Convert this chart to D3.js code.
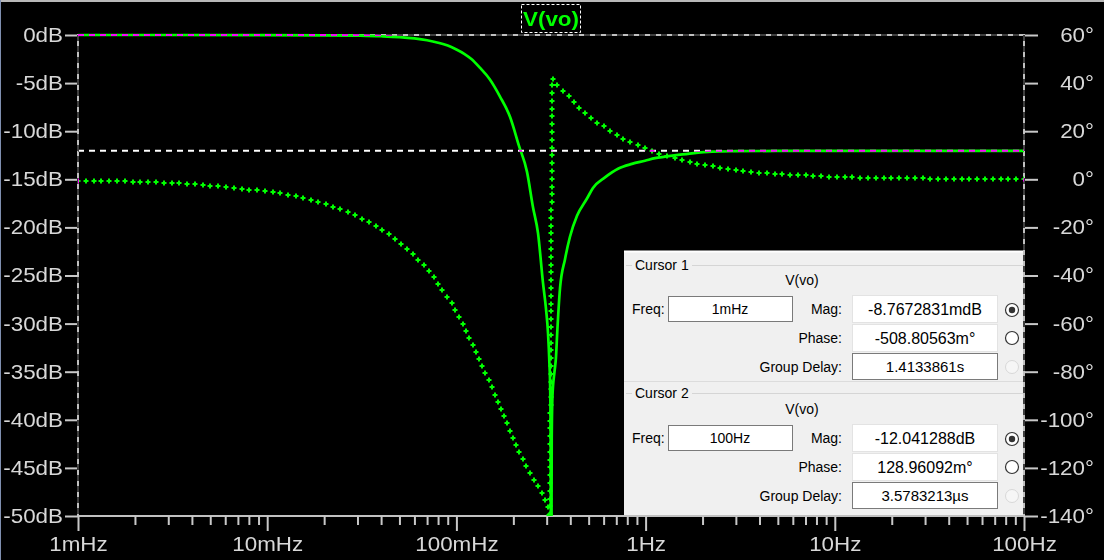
<!DOCTYPE html>
<html><head><meta charset="utf-8">
<script src="https://cdn.jsdelivr.net/npm/d3@7"></script>
<style>
body{margin:0;background:#000;overflow:hidden}
svg{display:block}
.cur{mix-blend-mode:difference}
</style></head>
<body><svg id="c" width="1104" height="560"></svg>
<script>
// ---------- data ----------
const magFreq = [0.001,0.003,0.01,0.02,0.03,0.04,0.05,0.06,0.07,0.08,0.09,0.1,0.11,0.12,0.133,0.15,0.17,0.192,0.214,0.236,0.254,0.27,0.287,0.298,0.305,0.31,0.313,0.315,0.3168,0.319,0.322,0.33,0.336,0.341,0.353,0.375,0.398,0.434,0.49,0.527,0.61,0.715,0.847,0.993,1.122,1.265,1.484,1.758,2.244,3.0,5.0,10,30,100];
const magDb   = [0,0,-0.01,-0.03,-0.07,-0.13,-0.22,-0.36,-0.55,-0.8,-1.1,-1.5,-1.95,-2.5,-3.4,-4.6,-6.4,-8.5,-11.5,-14.2,-17.9,-20.6,-25.8,-28.6,-31.0,-34.0,-36.6,-42,-65,-42,-37.5,-35,-33.5,-31.0,-26.3,-23.3,-21.0,-18.8,-17.0,-15.9,-14.8,-13.9,-13.4,-13.07,-12.8,-12.65,-12.47,-12.3,-12.13,-12.08,-12.05,-12.04,-12.04,-12.04];

const phFreq = [0.001,0.002,0.004,0.00812,0.0103,0.0132,0.0162,0.0207,0.0264,0.0322,0.041,0.0485,0.0549,0.0636,0.0744,0.0841,0.0949,0.1032,0.1125,0.1238,0.1345,0.15,0.17,0.187,0.214,0.236,0.27,0.294,0.305,0.3105,0.3225,0.344,0.366,0.389,0.419,0.445,0.484,0.515,0.56,0.61,0.664,0.732,0.797,0.868,0.946,1.031,1.122,1.222,1.331,1.484,1.595,1.738,1.893,2.061,2.244,2.63,2.934,3.477,4.123,4.83,5.867,6.956,7.573,12.48,20,38.2,100];
const phDeg  = [-0.5,-1.0,-2.0,-4.3,-5.2,-6.6,-8.2,-10.6,-13.5,-16.6,-21.5,-25.2,-29.0,-33.8,-39.8,-46.0,-51.8,-57.0,-63.0,-70.0,-76.5,-84.3,-95.0,-102.5,-113.0,-119.6,-128.0,-133.0,-136.0,-141,42.0,38.9,36.8,34.8,31.9,29.6,27.4,25.4,23.3,21.7,19.7,17.6,16.0,14.7,13.6,12.5,11.2,10.2,9.4,8.5,7.8,7.1,6.5,6.0,5.4,4.6,4.0,3.3,2.7,2.3,1.9,1.6,1.4,0.8,0.5,0.25,0.13];

const dbTicks = [0,-5,-10,-15,-20,-25,-30,-35,-40,-45,-50];
const degTicks = [60,40,20,0,-20,-40,-60,-80,-100,-120,-140];
const freqTicks = [0.001,0.01,0.1,1,10,100];
const freqTickLabels = ["1mHz","10mHz","100mHz","1Hz","10Hz","100Hz"];
const minorMult = [2,3,4,5,6,7,8,9];

const traceName = "V(vo)";
const cursorFreq = [0.001, 100];
const cursorMag = [-0.0087672831, -12.041288];
const cursorNames = ["Cursor 1","Cursor 2"];
const cursorFreqText = ["1mHz","100Hz"];
const cursorMagText = ["-8.7672831mdB","-12.041288dB"];
const cursorPhaseText = ["-508.80563m°","128.96092m°"];
const cursorGDText = ["1.4133861s","3.5783213µs"];

// ---------- layout ----------
const L = 78, R = 1024, T = 35, B = 516;
const sx = 1.12;
const svg = d3.select("#c");
svg.append("rect").attr("width",1104).attr("height",560).attr("fill","#000");
svg.append("line").attr("x1",0).attr("x2",1104).attr("y1",1).attr("y2",1).attr("stroke","#b8b8b8").attr("stroke-width",2);
svg.append("line").attr("x1",0.5).attr("x2",0.5).attr("y1",0).attr("y2",560).attr("stroke","#7f8fb0").attr("stroke-width",1);

const x = d3.scaleLog().domain([0.001,100]).range([L,R]);
const yDb = d3.scaleLinear().domain([-50,0]).range([B,T]);
const yDeg = d3.scaleLinear().domain([-140,60]).range([B,T]);

const axisFont = "'Liberation Sans', Arial, sans-serif";
const tickCol = "#c8c8c8";

// frame
svg.append("rect").attr("x",L).attr("y",T).attr("width",R-L).attr("height",B-T)
  .attr("fill","none").attr("stroke","#c0c0c0").attr("stroke-width",2);

function styleAxis(g){
  g.select(".domain").remove();
  g.selectAll("line").attr("stroke",tickCol).attr("stroke-width",2);
  g.selectAll("text").attr("fill","#d8d8d8").style("font-family",axisFont).style("font-size","20px");
}

// left axis
const gl = svg.append("g").attr("transform",`translate(${L},0)`)
  .call(d3.axisLeft(yDb).tickValues(dbTicks).tickFormat(d=>d+"dB").tickSize(13));
styleAxis(gl);
gl.selectAll("text").attr("x",-15/sx).attr("transform",`scale(${sx},1)`);

// right axis
const gr = svg.append("g").attr("transform",`translate(${R},0)`)
  .call(d3.axisRight(yDeg).tickValues(degTicks).tickFormat(d=>d+"°").tickSize(14));
styleAxis(gr);
gr.selectAll("text").attr("text-anchor","end").attr("x",70/sx).attr("transform",`scale(${sx},1)`);

// bottom axis: minor + major
const minors = [];
freqTicks.slice(0,-1).forEach(f=>minorMult.forEach(m=>minors.push(f*m)));
const gbm = svg.append("g").attr("transform",`translate(0,${B})`)
  .call(d3.axisBottom(x).tickValues(minors).tickFormat("").tickSize(9));
styleAxis(gbm);
const gb = svg.append("g").attr("transform",`translate(0,${B})`)
  .call(d3.axisBottom(x).tickValues(freqTicks).tickFormat((d,i)=>freqTickLabels[i]).tickSize(15).tickPadding(6));
styleAxis(gb);
gb.selectAll(".tick text").attr("transform",`scale(${sx},1)`);

// clip
svg.append("clipPath").attr("id","clip").append("rect").attr("x",L).attr("y",T-3).attr("width",R-L).attr("height",B-T+3);
const plot = svg.append("g").attr("clip-path","url(#clip)");

// magnitude
const magData = magFreq.map((f,i)=>[f,magDb[i]]);
plot.append("path").datum(magData)
  .attr("d", d3.line().x(d=>x(d[0])).y(d=>yDb(d[1])).curve(d3.curveMonotoneX))
  .attr("fill","none").attr("stroke","#00ff00").attr("stroke-width",2.7);

// phase (dotted with + marks)
const phData = phFreq.map((f,i)=>[f,phDeg[i]]);
const phPath = plot.append("path").datum(phData)
  .attr("d", d3.line().x(d=>x(d[0])).y(d=>yDeg(d[1])).curve(d3.curveMonotoneX))
  .attr("fill","none").attr("stroke","none");
const node = phPath.node();
const len = node.getTotalLength();
const pts = [];
for(let s=0; s<=len; s+=7.8){ const p=node.getPointAtLength(s); pts.push([Math.round(p.x),Math.round(p.y)]); }
plot.append("path")
  .attr("d", pts.map(p=>`M${p[0]-2.5},${p[1]}h5M${p[0]},${p[1]-2.5}v5`).join(""))
  .attr("stroke","#00ff00").attr("stroke-width",2).attr("fill","none");

// cursors (XOR-like)
const cur = svg.append("g").attr("class","cur");
cursorFreq.forEach((f,i)=>{
  cur.append("line").attr("x1",x(f)).attr("x2",x(f)).attr("y1",T).attr("y2",B)
    .attr("stroke","#fff").attr("stroke-width",2).attr("stroke-dasharray","6,5");
  cur.append("line").attr("x1",L).attr("x2",R).attr("y1",yDb(cursorMag[i])).attr("y2",yDb(cursorMag[i]))
    .attr("stroke","#fff").attr("stroke-width",2).attr("stroke-dasharray","6,5");
});

// title
svg.append("rect").attr("x",521.5).attr("y",4.5).attr("width",59).attr("height",28)
  .attr("fill","#000").attr("stroke","#fff").attr("stroke-dasharray","3,2");
svg.append("text").attr("transform",`translate(551,26) scale(${sx},1)`).attr("text-anchor","middle")
  .attr("fill","#00ff00").style("font-family",axisFont).style("font-size","20px").style("font-weight","bold")
  .text(traceName);

// ---------- cursor panel ----------
const pf = "'Liberation Sans', Arial, sans-serif";
const panel = svg.append("g");
panel.append("rect").attr("x",624).attr("y",251).attr("width",399).attr("height",264).attr("fill","#f0f0f0");
panel.append("line").attr("x1",624).attr("x2",1023).attr("y1",251.5).attr("y2",251.5).attr("stroke","#fff").attr("stroke-width",2);

function txt(x,y,s,anchor,size){
  return panel.append("text").attr("x",x).attr("y",y).attr("text-anchor",anchor||"start")
    .attr("fill","#000").style("font-family",pf).style("font-size",(size||14)+"px").text(s);
}
function box(x,y,w,h,dark){
  panel.append("rect").attr("x",x+0.5).attr("y",y+0.5).attr("width",w).attr("height",h)
    .attr("fill","#fff").attr("stroke",dark?"#7a7a7a":"#e3e3e3");
}
function radio(cx,cy,state){
  if(state==="off"){
    panel.append("circle").attr("cx",cx).attr("cy",cy).attr("r",6.5).attr("fill","#f6f6f6").attr("stroke","#d8d8d8");
    return;
  }
  panel.append("circle").attr("cx",cx).attr("cy",cy).attr("r",6.5).attr("fill","#fff").attr("stroke","#333").attr("stroke-width",1.2);
  if(state==="sel") panel.append("circle").attr("cx",cx).attr("cy",cy).attr("r",3.2).attr("fill","#333");
}
const groupTop = [265, 393];
const rowOff = [0, 129];
[0,1].forEach(i=>{
  const o = rowOff[i];
  const gy = groupTop[i];
  panel.append("line").attr("x1",626).attr("x2",632).attr("y1",gy+0.5).attr("y2",gy+0.5).attr("stroke","#d5d5d5");
  panel.append("line").attr("x1",692).attr("x2",1023).attr("y1",gy+0.5).attr("y2",gy+0.5).attr("stroke","#d5d5d5");
  txt(635, gy+5, cursorNames[i]);
  txt(802, 285+o, traceName, "middle");
  txt(632, 314+o, "Freq:");
  box(668, 296+o, 124, 25, true);
  txt(730, 314+o, cursorFreqText[i], "middle");
  txt(842, 314+o, "Mag:", "end");
  box(852, 295+o, 145, 27, false);
  txt(925, 315+o, cursorMagText[i], "middle", 16);
  radio(1012, 310+o, "sel");
  txt(842, 343+o, "Phase:", "end");
  box(852, 324+o, 145, 27, false);
  txt(925, 344+o, cursorPhaseText[i], "middle", 16);
  radio(1012, 338+o, "on");
  txt(842, 372+o, "Group Delay:", "end");
  box(852, 353+o, 145, 26, true);
  txt(925, 372+o, cursorGDText[i], "middle", 15);
  radio(1012, 367+o, "off");
});
panel.append("line").attr("x1",624).attr("x2",1023).attr("y1",381.5).attr("y2",381.5).attr("stroke","#dcdcdc");
</script>
</body></html>
